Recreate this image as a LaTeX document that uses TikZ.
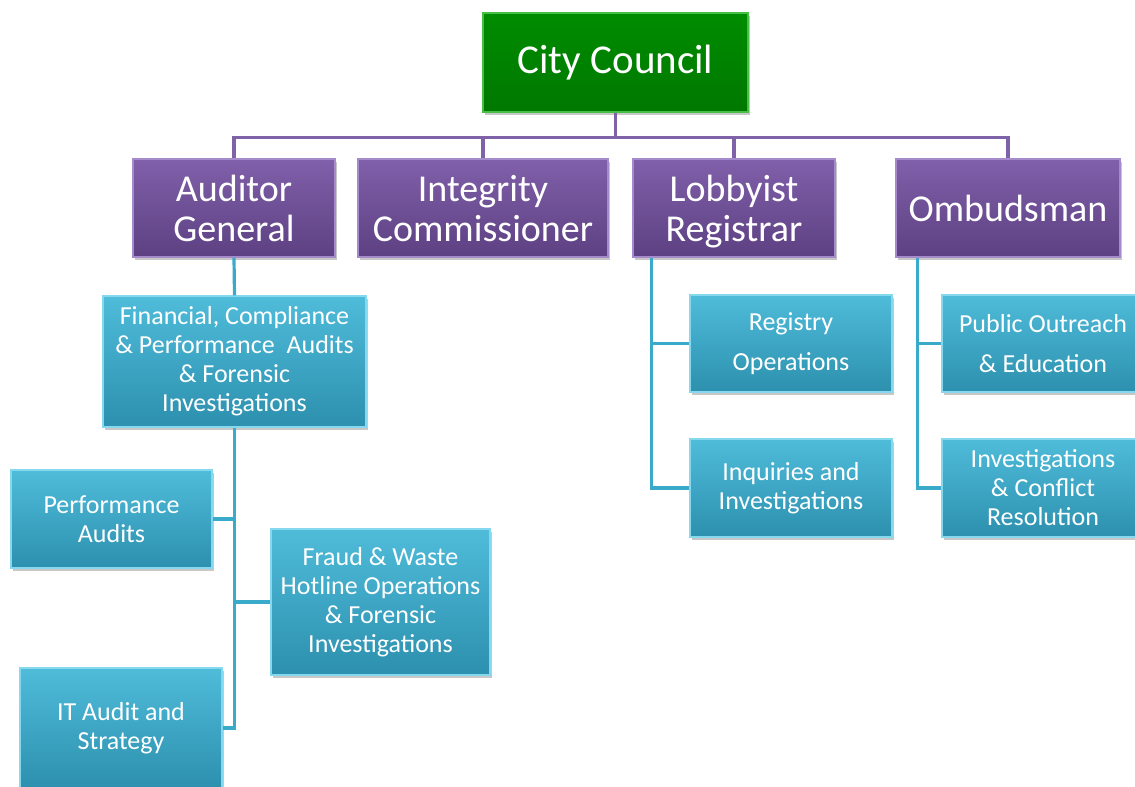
\documentclass[tikz,border=0pt]{standalone}
\usepackage{fontspec}
\setmainfont{Carlito}
\usetikzlibrary{shadows}
\definecolor{gtop}{HTML}{008C00}
\definecolor{gbot}{HTML}{007800}
\definecolor{gedge}{HTML}{45C045}
\definecolor{ptop}{HTML}{8060AA}
\definecolor{pbot}{HTML}{5D4082}
\definecolor{pedge}{HTML}{A58BCB}
\definecolor{ctop}{HTML}{4FBCDA}
\definecolor{cbot}{HTML}{2C90AE}
\definecolor{cedge}{HTML}{86D8EE}
\definecolor{pline}{HTML}{7F62A8}
\definecolor{cline}{HTML}{3AAACB}
\tikzset{
  basebox/.style={rectangle, inner sep=0pt, align=center, text=white, line width=1.4pt,
    drop shadow={shadow xshift=2pt, shadow yshift=-3pt, fill=black, opacity=0.22}},
  greenbox/.style={basebox, top color=gtop, bottom color=gbot, draw=gedge,
    font=\fontsize{41}{48}\selectfont},
  purplebox/.style={basebox, top color=ptop, bottom color=pbot, draw=pedge,
    minimum height=98pt, text depth=0pt, font=\fontsize{38}{40}\selectfont},
  cyanbox/.style={basebox, top color=ctop, bottom color=cbot, draw=cedge,
    font=\fontsize{26}{29}\selectfont},
  wide/.style={font=\fontsize{26}{40}\selectfont},
  pconn/.style={draw=pline, line width=3.4pt},
  cconn/.style={draw=cline, line width=3.2pt},
}
\begin{document}
\begin{tikzpicture}[x=1pt, y=-1pt]
\useasboundingbox (0,0) rectangle (1135,787);
% top
\node[greenbox, minimum width=265pt, minimum height=99pt] (cc) at (615.5,62.5) {City Council};
% second row
\node[purplebox, minimum width=202pt] (ag) at (234,208) {Auditor\\General};
\node[purplebox, minimum width=250pt] (ic) at (483,208) {Integrity\\Commissioner};
\node[purplebox, minimum width=202pt] (lr) at (734,208) {Lobbyist\\Registrar};
\node[purplebox, minimum width=224pt] (om) at (1008,208) {Ombudsman};
% auditor general branch
\node[cyanbox, minimum width=263pt, minimum height=131pt] (fcp) at (234.5,361.5)
  {Financial, Compliance\\\& Performance\ \ Audits\\\& Forensic\\Investigations};
\node[cyanbox, minimum width=201pt, minimum height=98pt] (pa) at (111.5,519) {Performance\\Audits};
\node[cyanbox, minimum width=219pt, minimum height=146pt] (fw) at (380.5,602)
  {Fraud \& Waste\\Hotline Operations\\\& Forensic\\Investigations};
\node[cyanbox, minimum width=202pt, minimum height=120pt] (it) at (121,728) {IT Audit and\\Strategy};
% lobbyist branch
\node[cyanbox, wide, minimum width=202pt, minimum height=97pt] (ro) at (791,343.5) {Registry\\Operations};
\node[cyanbox, minimum width=202pt, minimum height=98pt] (iq) at (791,488) {Inquiries and\\Investigations};
% ombudsman branch
\node[cyanbox, wide, minimum width=202pt, minimum height=97pt] (po) at (1043,343.5) {Public Outreach\\\& Education};
\node[cyanbox, minimum width=202pt, minimum height=98pt] (icr) at (1043,488) {Investigations\\\& Conflict\\Resolution};
% connectors: council
\draw[pconn] (cc.south) -- ++(0,25) -| (ag.north);
\draw[pconn] (cc.south) -- ++(0,25) -| (ic.north);
\draw[pconn] (cc.south) -- ++(0,25) -| (lr.north);
\draw[pconn] (cc.south) -- ++(0,25) -| (om.north);
% connectors: auditor general
\draw[cconn] (ag.south) -- (fcp.north);
\draw[cconn] (fcp.south) |- (pa.east);
\draw[cconn] (fcp.south) |- (fw.west);
\draw[cconn] (fcp.south) |- (it.east);
% connectors: lobbyist
\draw[cconn] ([xshift=19pt]lr.south west) |- (ro.west);
\draw[cconn] ([xshift=19pt]lr.south west) |- (iq.west);
% connectors: ombudsman
\draw[cconn] ([xshift=22pt]om.south west) |- (po.west);
\draw[cconn] ([xshift=22pt]om.south west) |- (icr.west);
\end{tikzpicture}
\end{document}
